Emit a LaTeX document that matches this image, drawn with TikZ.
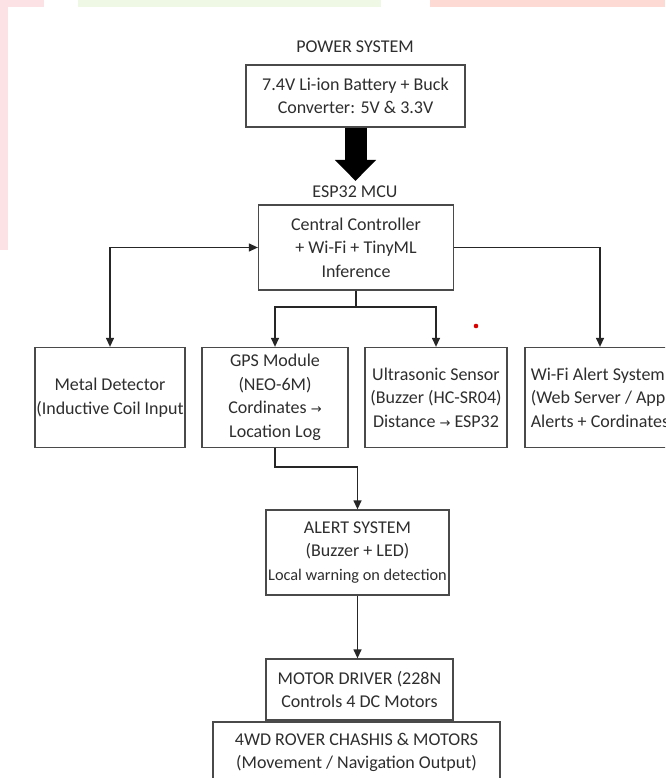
\documentclass[tikz,border=0pt]{standalone}
\usepackage{fontspec}
\setmainfont{Carlito}
\newfontfamily\symfont{DejaVu Sans}
\usetikzlibrary{arrows.meta}
\definecolor{txt}{HTML}{2E2E2E}
\definecolor{boxc}{HTML}{4A4A4A}
\definecolor{linec}{HTML}{262626}
\definecolor{bgpink}{HTML}{FCE2E5}
\definecolor{bgsalmon}{HTML}{FDDAD3}
\definecolor{bggreen}{HTML}{EEF8E4}
\newcommand\dfs{\fontsize{18}{23.5}\selectfont}
\newcommand\sfs{\fontsize{16.3}{23.5}\selectfont}
\newcommand\rar{{\symfont\fontsize{13}{13}\selectfont →}}
\begin{document}
\begin{tikzpicture}[x=1pt,y=-1pt,
  box/.style={draw=boxc, line width=1.3pt, fill=white, inner sep=0pt, align=center, text=txt, font=\dfs},
  lbl/.style={inner sep=0pt, text=txt, font=\dfs},
  conn/.style={draw=linec, line width=1.3pt},
  tip/.style={-{Triangle[width=8pt,length=9pt]}},
  tips/.style={{Triangle[width=8pt,length=9pt]}-{Triangle[width=8pt,length=9pt]}}]
\useasboundingbox (0,0) rectangle (665,778);
\clip (0,0) rectangle (665,778);
% faint background edges
\fill[white] (0,0) rectangle (665,778);
\fill[bgpink] (0,0) rectangle (44,7);
\fill[bgpink] (0,0) rectangle (8,250);
\fill[bggreen] (78,0) rectangle (381,7);
\fill[bgsalmon] (430,0) rectangle (665,7);

% nodes
\node[lbl] (pwr) at (355,47) {POWER SYSTEM};
\node[box, minimum width=219pt, minimum height=62pt] (bat) at (355.5,96) {7.4V Li-ion Battery + Buck\\Converter: 5V \& 3.3V};
\node[lbl] (esp) at (355,192) {ESP32 MCU};
\coordinate (pwrtip) at ([yshift=5pt]esp.north);
\node[box, minimum width=195pt, minimum height=85pt] (cc) at (356,247.5) {Central Controller\\+ Wi-Fi + TinyML\\Inference};

\node[box, minimum width=150pt, minimum height=100pt] (md) at (110,397.5) {Metal Detector\\(Inductive Coil Input};
\node[box, minimum width=146pt, minimum height=100pt] (gps) at (275,397.5) {GPS Module\\(NEO-6M)\\Cordinates \rar\\Location Log};
\node[box, minimum width=142pt, minimum height=100pt] (us) at (436,397.5) {Ultrasonic Sensor\\(Buzzer (HC-SR04)\\Distance \rar{} ESP32};
\node[box, align=left, minimum width=150pt, minimum height=100pt] (wifi) at (600,397.5) {Wi-Fi Alert System\\(Web Server / App\\Alerts + Cordinates};

\node[box, minimum width=183pt, minimum height=85pt] (alert) at (357.5,552.5) {ALERT SYSTEM\\(Buzzer + LED)\\{\sfs Local warning on detection}};
\node[box, minimum width=287pt, minimum height=61pt] (rover) at (356.5,752.5) {4WD ROVER CHASHIS \& MOTORS\\(Movement / Navigation Output)};
\node[box, minimum width=187pt, minimum height=61pt] (motor) at (359.5,689.5) {MOTOR DRIVER (228N\\Controls 4 DC Motors};

% connectors
\draw[line width=22pt, draw=black, -{Triangle[width=40pt,length=21pt]}] (bat.south) -- (bat.south |- pwrtip);
\draw[conn, tips] (md.north) |- (cc.west);
\draw[conn, tip] (cc.east) -| (wifi.north);
\coordinate (br) at (356,307);
\draw[conn] (cc.south) -- (br);
\draw[conn, tip] (br) -| (gps.north);
\draw[conn, tip] (br) -| (us.north);
\coordinate (jn) at (275,467);
\draw[conn, tip] (gps.south) -- (jn) -| (alert.north);
\draw[conn, tip] (alert.south) -- (alert.south |- motor.north);

% red dot
\fill[red!85!black] (476,326) circle (2.3pt);
\end{tikzpicture}
\end{document}
